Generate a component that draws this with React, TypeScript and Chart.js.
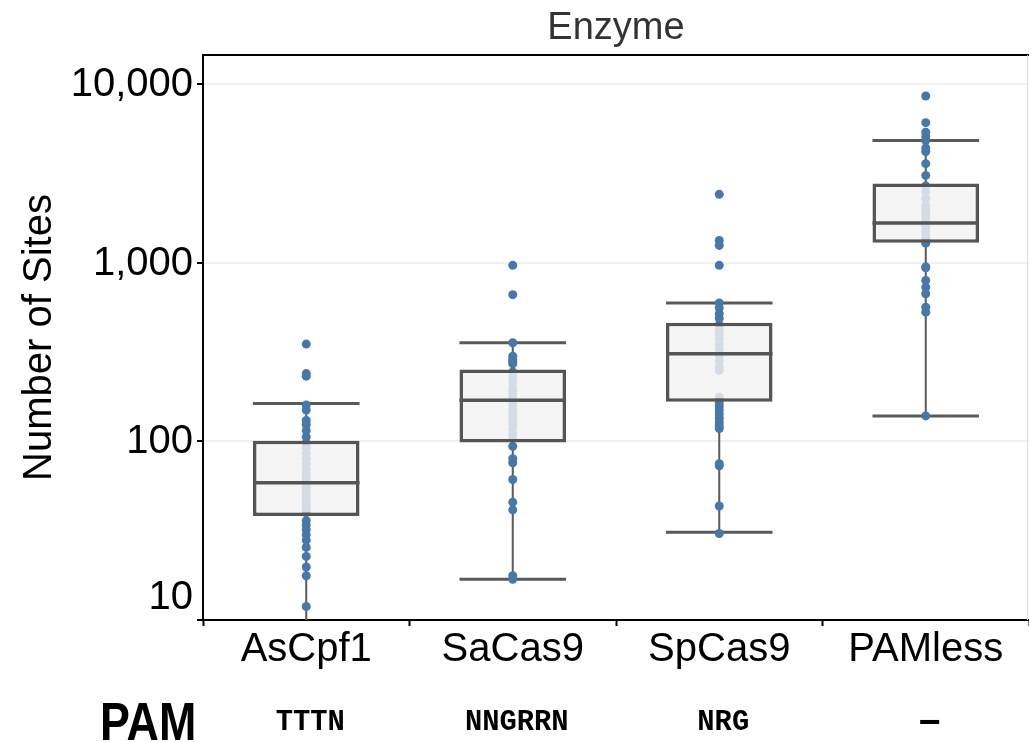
import React, { useEffect, useRef } from "react";
import { Chart, registerables } from "chart.js";

Chart.register(...registerables);

// ---- data ----
const categories = ["AsCpf1", "SaCas9", "SpCas9", "PAMless"];
const pamLabels = ["TTTN", "NNGRRN", "NRG", "–"];

const q1 = [38.2, 98.5, 167, 1297];
const median = [58.7, 170, 310, 1671];
const q3 = [101, 253, 462, 2780];
const whiskerLow = [8, 16.9, 31, 139];
const whiskerHigh = [163, 357, 596, 4840];

const asCpf1Points = [
  351, 240, 232, 160, 150, 131, 124, 115, 106,
  98, 92, 86, 80, 75, 70, 66, 62, 58, 55, 52, 49, 46, 44, 42, 40,
  36, 34, 32, 30, 28, 25.5, 22.7, 19.8, 17.7, 11.9,
];
const saCas9Points = [
  969, 664, 357, 300, 288, 280, 272,
  245, 230, 215, 200, 190, 180, 170, 160, 150, 140, 132, 125, 118, 110, 104,
  94, 80, 76, 61.2, 45.7, 41.4, 17.7, 16.9,
];
const spCas9Points = [
  2421, 1337, 1253, 969, 596, 560, 520, 490,
  450, 420, 400, 380, 350, 330, 300, 280, 260, 250, 177,
  165, 158, 150, 142, 135, 128, 122, 118, 75, 73, 43.5, 30.5,
];
const pamlessPoints = [
  8600, 6100, 5400, 5100, 4840, 4400, 4200, 3595, 3090,
  2700, 2500, 2300, 2100, 2000, 1900, 1800, 1700, 1600, 1500, 1400, 1350,
  1290, 948, 940, 798, 731, 672, 565, 530, 139,
];
const pointsByCategory = [asCpf1Points, saCas9Points, spCas9Points, pamlessPoints];

const yTickValues = [10, 100, 1000, 10000];
const yTickLabels = ["10", "100", "1,000", "10,000"];

const xTitle = "Enzyme";
const yTitle = "Number of Sites";
const pamTitle = "PAM";

const FONT = '"Liberation Sans", Arial, Helvetica, sans-serif';
const BAR_PCT = 0.516;

const boxPlugin = {
  id: "boxExtras",
  beforeDatasetsDraw(chart: any) {
    const { ctx, chartArea: a, scales } = chart;
    const x = scales.x;
    const y = scales.y;
    const catW = x.getPixelForValue(1) - x.getPixelForValue(0);
    const half = (catW * BAR_PCT) / 2;
    ctx.save();
    ctx.beginPath();
    ctx.rect(a.left, a.top, a.right - a.left, a.bottom - a.top);
    ctx.clip();
    ctx.strokeStyle = "#5a5a5a";
    categories.forEach((_, i) => {
      const cx = x.getPixelForValue(i);
      const yHi = y.getPixelForValue(whiskerHigh[i]);
      const yQ3 = y.getPixelForValue(q3[i]);
      const yQ1 = y.getPixelForValue(q1[i]);
      const yLo = y.getPixelForValue(whiskerLow[i]);
      ctx.lineWidth = 2;
      ctx.beginPath();
      ctx.moveTo(cx, yHi);
      ctx.lineTo(cx, yQ3);
      ctx.moveTo(cx, yQ1);
      ctx.lineTo(cx, yLo);
      ctx.stroke();
      ctx.lineWidth = 3;
      ctx.beginPath();
      ctx.moveTo(cx - half, yHi);
      ctx.lineTo(cx + half, yHi);
      ctx.moveTo(cx - half, yLo);
      ctx.lineTo(cx + half, yLo);
      ctx.stroke();
    });
    ctx.restore();
  },
  afterDatasetsDraw(chart: any) {
    const { ctx, scales } = chart;
    const x = scales.x;
    const y = scales.y;
    const catW = x.getPixelForValue(1) - x.getPixelForValue(0);
    const half = (catW * BAR_PCT) / 2;
    ctx.save();
    ctx.strokeStyle = "#555555";
    ctx.lineWidth = 3.5;
    categories.forEach((_, i) => {
      const cx = x.getPixelForValue(i);
      const ym = y.getPixelForValue(median[i]);
      ctx.beginPath();
      ctx.moveTo(cx - half, ym);
      ctx.lineTo(cx + half, ym);
      ctx.stroke();
    });
    ctx.restore();
  },
  afterDraw(chart: any) {
    const { ctx, chartArea: a, scales } = chart;
    const x = scales.x;
    const y = scales.y;
    ctx.save();
    // top border and faint right edge
    ctx.strokeStyle = "#000";
    ctx.lineWidth = 2;
    ctx.beginPath();
    ctx.moveTo(a.left - 1, a.top);
    ctx.lineTo(a.right, a.top);
    ctx.stroke();
    ctx.strokeStyle = "#dddddd";
    ctx.lineWidth = 1;
    ctx.beginPath();
    ctx.moveTo(a.right - 1.5, a.top);
    ctx.lineTo(a.right - 1.5, a.bottom);
    ctx.stroke();

    // y tick labels
    ctx.fillStyle = "#000";
    ctx.font = `40px ${FONT}`;
    ctx.textAlign = "right";
    ctx.textBaseline = "middle";
    yTickValues.forEach((v, i) => {
      let py = y.getPixelForValue(v);
      if (i === 0) py -= 23;
      ctx.fillText(yTickLabels[i], a.left - 10, py + 1);
    });

    // y title
    ctx.save();
    ctx.translate(40, (a.top + a.bottom) / 2);
    ctx.rotate(-Math.PI / 2);
    ctx.textAlign = "center";
    ctx.textBaseline = "middle";
    ctx.font = `40px ${FONT}`;
    ctx.fillText(yTitle, 0, 0);
    ctx.restore();

    // x title on top
    ctx.fillStyle = "#333";
    ctx.font = `38px ${FONT}`;
    ctx.textAlign = "center";
    ctx.textBaseline = "middle";
    ctx.fillText(xTitle, (a.left + a.right) / 2, 29);

    // PAM row
    ctx.fillStyle = "#000";
    ctx.save();
    ctx.translate(100, 740);
    ctx.scale(0.83, 1);
    ctx.font = `bold 54px ${FONT}`;
    ctx.textAlign = "left";
    ctx.textBaseline = "alphabetic";
    ctx.fillText(pamTitle, 0, 0);
    ctx.restore();

    pamLabels.forEach((t, i) => {
      const cx = x.getPixelForValue(i) + 4;
      ctx.save();
      ctx.translate(cx, 722);
      ctx.scale(0.96, 1);
      if (t === "–") {
        ctx.font = `bold 40px ${FONT}`;
      } else {
        ctx.font = `bold 30px "Liberation Mono", "Courier New", monospace`;
      }
      ctx.textAlign = "center";
      ctx.textBaseline = "middle";
      ctx.fillText(t, 0, 0);
      ctx.restore();
    });
    ctx.restore();
  },
};

export default function App() {
  const ref = useRef<HTMLCanvasElement | null>(null);

  useEffect(() => {
    if (!ref.current) return;
    const scatterData = categories.flatMap((c, i) =>
      pointsByCategory[i].map((v) => ({ x: c, y: v }))
    );
    const chart = new Chart(ref.current, {
      type: "bar",
      data: {
        labels: categories,
        datasets: [
          {
            type: "scatter",
            data: scatterData as any,
            backgroundColor: "#4878a8",
            borderWidth: 0,
            pointRadius: 4.5,
            pointHoverRadius: 4.5,
            order: 2,
          } as any,
          {
            type: "bar",
            data: q1.map((v, i) => [v, q3[i]]) as any,
            backgroundColor: "rgba(243,243,243,0.82)",
            borderColor: "#555555",
            borderWidth: 3.5,
            borderSkipped: false,
            barPercentage: BAR_PCT,
            categoryPercentage: 1,
            order: 1,
          } as any,
        ],
      },
      options: {
        responsive: false,
        animation: false,
        devicePixelRatio: 1,
        layout: { autoPadding: false, padding: { top: 55, left: 0, right: 0, bottom: 0 } },
        plugins: {
          legend: { display: false },
          tooltip: { enabled: false },
          title: { display: false },
        },
        scales: {
          x: {
            type: "category",
            offset: true,
            grid: {
              display: true,
              drawOnChartArea: false,
              offset: true,
              tickLength: 6,
              tickColor: "#000",
              tickWidth: 2,
            },
            border: { color: "#000", width: 2 },
            ticks: {
              color: "#000",
              font: { size: 40, family: FONT },
              padding: 0,
              maxRotation: 0,
              autoSkip: false,
            },
            afterFit: (s: any) => {
              s.height = 122;
            },
          },
          y: {
            type: "logarithmic",
            min: 10,
            max: 14600,
            afterBuildTicks: (s: any) => {
              s.ticks = yTickValues.map((v) => ({ value: v }));
            },
            grid: {
              color: (c: any) =>
                c.tick && c.tick.value === 10 ? "rgba(0,0,0,0)" : "#f0f0f0",
              lineWidth: 2,
              tickColor: "#000",
              tickLength: 6,
              tickWidth: 2,
            },
            border: { color: "#000", width: 2 },
            ticks: { display: false },
            afterFit: (s: any) => {
              s.width = 203;
            },
          },
        },
      },
      plugins: [boxPlugin],
    });
    return () => chart.destroy();
  }, []);

  return (
    <div style={{ position: "absolute", left: 0, top: 0, width: 1029, height: 742, background: "#fff" }}>
      <canvas ref={ref} width={1029} height={742} style={{ display: "block" }} />
    </div>
  );
}
